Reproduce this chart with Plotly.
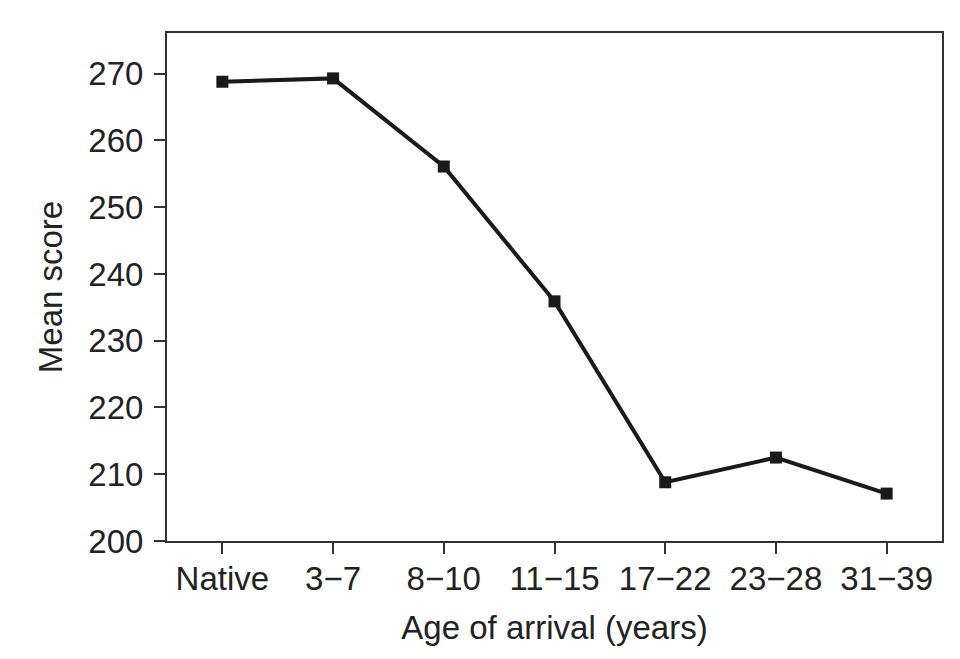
import plotly.graph_objects as go

categories = ["Native", "3\u22127", "8\u221210", "11\u221215", "17\u221222", "23\u221228", "31\u221239"]
mean_score = [268.8, 269.3, 256.1, 235.9, 208.8, 212.5, 207.1]
y_ticks = [200, 210, 220, 230, 240, 250, 260, 270]

x_idx = list(range(len(categories)))

fig = go.Figure()
fig.add_trace(go.Scatter(
    x=x_idx, y=mean_score, mode="lines+markers",
    line=dict(color="#1a1a1a", width=4),
    marker=dict(symbol="square", size=12, color="#1a1a1a"),
    showlegend=False,
))

font = "Liberation Sans, Arial, sans-serif"
axis_common = dict(
    showline=True, linecolor="#333333", linewidth=2, mirror=True,
    ticks="outside", ticklen=11, tickwidth=2, tickcolor="#333333",
    showgrid=False, zeroline=False, automargin=False,
    tickfont=dict(family=font, size=33, color="#222222"),
)

fig.update_xaxes(
    range=[-0.5, 6.5], tickmode="array", tickvals=x_idx, ticktext=categories,
    title=dict(text="Age of arrival (years)", font=dict(family=font, size=33, color="#222222"), standoff=20),
    ticklabelstandoff=-4,
    **axis_common,
)
fig.update_yaxes(
    range=[200, 276.1], tickmode="array", tickvals=y_ticks,
    title=dict(text="Mean score", font=dict(family=font, size=33, color="#222222"), standoff=16),
    ticklabelstandoff=4,
    **axis_common,
)

fig.update_layout(
    width=960, height=659,
    margin=dict(l=158.5, r=26, t=24.7, b=125.7),
    paper_bgcolor="white", plot_bgcolor="white",
)

fig.write_html("out.html")
